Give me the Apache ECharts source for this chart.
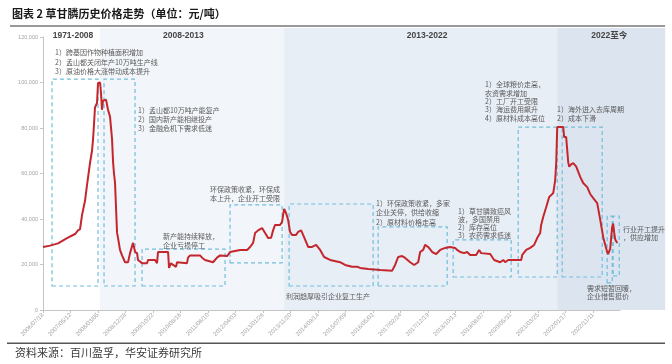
<!DOCTYPE html>
<html>
<head>
<meta charset="utf-8">
<script src="https://cdn.jsdelivr.net/npm/echarts@6/dist/echarts.min.js"></script>
<style>
html,body{margin:0;padding:0;background:#fff;}
#main{width:672px;height:364px;}
</style>
</head>
<body>
<div id="main"></div>
<script>
// ---- data (x = days since 2006/07/18, y = 元/吨) ----
const startDate = Date.UTC(2006, 6, 18);
const tickIntervalDays = 298;
const lastLabelDay = 5960;

const days = [0,76,163,260,347,379,401,423,444,455,471,477,498,509,520,531,542,553,563,585,596,618,629,639,650,683,704,726,748,759,769,780,791,802,813,834,856,889,921,943,975,986,997,1019,1029,1073,1127,1138,1214,1235,1246,1355,1365,1387,1409,1441,1452,1560,1571,1593,1701,1723,1755,1842,1885,1918,1994,2026,2135,2211,2243,2276,2297,2330,2373,2406,2438,2471,2492,2514,2568,2590,2601,2612,2633,2655,2676,2698,2741,2763,2796,2828,2872,2915,2958,3002,3045,3110,3218,3272,3348,3403,3435,3522,3652,3673,3782,3814,3847,3890,3923,3977,4020,4064,4085,4118,4139,4172,4215,4259,4302,4356,4410,4464,4486,4519,4562,4594,4627,4692,4724,4746,4844,4887,4952,4985,5006,5039,5180,5191,5234,5277,5320,5353,5385,5396,5418,5451,5483,5505,5527,5548,5559,5570,5635,5645,5667,5689,5700,5721,5743,5776,5819,5851,5895,5927,5960,6003,6036,6068,6111,6122,6144,6165,6176,6187,6198,6220];
const prices = [27700,28300,29300,31600,33400,35000,35500,41800,42000,48000,48500,55000,55500,64600,65000,70000,75000,82000,89000,91000,99800,100000,95000,88000,92000,92500,88000,85000,75000,65000,60000,56000,45000,34000,31600,26400,24000,21000,21000,25000,29500,27700,25500,25000,22000,20600,20600,22000,22000,20600,25500,25500,18500,20600,19800,19000,21000,20600,23000,24000,24000,23000,22000,21000,23000,24000,23700,25500,26400,26400,27700,29500,33800,35000,36000,33800,31600,31800,35000,37400,37400,38700,41800,44400,42600,39600,34300,33000,33000,34300,35000,32000,27700,27700,28600,26400,23300,22000,21000,19800,19000,19000,18500,18000,17600,17100,17300,19800,23300,23700,22900,21000,19800,21000,25500,26400,28600,27700,25500,24600,26400,27300,27700,27300,26400,25500,25000,25500,24200,24200,26400,25000,24600,22000,21000,22000,21000,22000,22000,24200,26400,27300,28600,31600,33800,37400,40900,45300,49700,50500,51400,57100,64600,80400,80400,76000,76000,65000,63000,64000,64600,63000,58500,55800,54000,51000,49200,47000,39600,32000,25500,24600,27000,36500,38000,34000,31000,29500];

// periods (background bands)
const periodNames = ['1971-2008', '2008-2013', '2013-2022', '2022至今'];
const periodStart = [0, 618, 2612, 5570];
const periodEnd = [618, 2612, 5570, 6740];
const periodLabelDay = [325, 1521, 4161, 6133];

// dashed annotation boxes (data coordinates)
const boxX1 = [98, 661, 1073, 2026, 2666, 3630, 4443, 5147, 5624, 6111, 6176];
const boxX2 = [596, 997, 1972, 2590, 3576, 4378, 5071, 5570, 6057, 6166, 6242];
const boxYLow = [10550, 10550, 10550, 20700, 10550, 10550, 14500, 14500, 14500, 11900, 15000];
const boxYHigh = [101500, 101500, 26800, 46200, 46600, 36500, 30800, 80400, 80400, 41300, 41300];

const notes = [
  '1）跨基因作物种植面积增加\n2）孟山都关闭年产10万吨生产线\n3）原油价格大涨带动成本提升',
  '1）孟山都10万吨产能复产\n2）国内新产能相继投产\n3）金融危机下需求低迷',
  '新产能持续释放，\n企业亏损停工',
  '环保政策收紧，环保成\n本上升，企业开工受限',
  '利润趋厚吸引企业复工生产',
  '1）环保政策收紧，多家\n企业关停，供给收缩\n2）原材料价格走高',
  '1）草甘膦致癌风\n波，多国禁用\n2）库存高位\n3）农药需求低迷',
  '1）全球粮价走高，\n农资需求增加\n2）工厂开工受限\n3）海运费用飙升\n4）原材料成本高位',
  '1）海外进入去库周期\n2）成本下滑',
  '行业开工提升\n，供应增加',
  '需求短暂回暖，\n企业惜售挺价'
];
const notePosX = [55, 138, 163, 210, 286, 376, 458, 485, 557, 623, 587];
const notePosY = [48, 106.5, 231.5, 185.5, 291.5, 199, 207.5, 80.5, 104.5, 225, 284];
const noteLineH = [9.5, 8.6, 9, 8.4, 9, 9.2, 7.9, 8.3, 9, 8, 8.3];

const titleText = '图表 2 草甘膦历史价格走势（单位：元/吨）';
const sourceText = '资料来源：百川盈孚，华安证券研究所';

function dayLabel(d) {
  const t = new Date(startDate + d * 86400000);
  const mm = String(t.getUTCMonth() + 1).padStart(2, '0');
  const dd = String(t.getUTCDate()).padStart(2, '0');
  return t.getUTCFullYear() + '/' + mm + '/' + dd;
}

const chart = echarts.init(document.getElementById('main'), null, {renderer: 'canvas'});
const cjk = '"Noto Sans CJK SC", sans-serif';

const option = {
  animation: false,
  backgroundColor: '#fff',
  grid: {left: 43, top: 37, right: 52, bottom: 54, containLabel: false},
  xAxis: {
    type: 'value', min: 0, max: 6250, interval: tickIntervalDays,
    axisLine: {show: true, lineStyle: {color: '#c4c4c4', width: 1}},
    axisTick: {show: true, length: 3, lineStyle: {color: '#c4c4c4'}},
    splitLine: {show: false},
    axisLabel: {
      rotate: 45, fontSize: 6, color: '#a3a3a3', margin: 4,
      fontFamily: 'Liberation Sans, Arial, sans-serif',
      showMaxLabel: false,
      formatter: function (v) {
        if (v % tickIntervalDays !== 0 || v > lastLabelDay) return '';
        return dayLabel(v);
      }
    }
  },
  yAxis: {
    type: 'value', min: 0, max: 120000, interval: 20000,
    axisLine: {show: true, lineStyle: {color: '#c4c4c4', width: 1}},
    axisTick: {show: true, length: 3, lineStyle: {color: '#c4c4c4'}},
    splitLine: {show: false},
    axisLabel: {
      fontSize: 5.5, color: '#a3a3a3', margin: 5,
      fontFamily: 'Liberation Sans, Arial, sans-serif',
      formatter: function (v) { return v.toLocaleString('en-US'); }
    }
  },
  series: [{
    type: 'line',
    data: days.map((d, i) => [d, prices[i]]),
    showSymbol: false,
    clip: false,
    lineStyle: {color: '#c3272d', width: 2},
    z: 5,
    markArea: {
      silent: true,
      itemStyle: {color: 'rgba(0,0,0,0)', borderColor: '#72bedb', borderWidth: 1.2, borderType: [4, 3]},
      data: boxX1.map((x1, i) => [{coord: [x1, boxYLow[i]]}, {coord: [boxX2[i], boxYHigh[i]]}])
    }
  }]
};
chart.setOption(option);

const bandColors = ['#ffffff', '#f2f5f9', '#e8eef6', '#dce5ef'];
const px = d => chart.convertToPixel({xAxisIndex: 0}, d);
const graphics = [];
periodNames.forEach((name, i) => {
  const x1 = px(periodStart[i]), x2 = px(periodEnd[i]);
  graphics.push({type: 'rect', z: -10, silent: true,
    shape: {x: x1, y: 28, width: x2 - x1, height: 282},
    style: {fill: bandColors[i]}});
  graphics.push({type: 'text', z: 10, silent: true,
    style: {text: name, x: px(periodLabelDay[i]), y: 36, align: 'center', verticalAlign: 'middle',
      fontSize: 8.5, fontWeight: 'bold', fontFamily: 'Liberation Sans, Arial, "Noto Sans CJK SC", sans-serif', fill: '#444'}});
});
notes.forEach((t, i) => {
  graphics.push({type: 'text', z: 10, silent: true,
    style: {text: t, x: notePosX[i], y: notePosY[i], align: 'left', verticalAlign: 'top',
      fontSize: 7, lineHeight: noteLineH[i], fontFamily: cjk, fill: '#5a5a5a'}});
});
graphics.push({type: 'text', z: 10, silent: true,
  style: {text: titleText, x: 12, y: 14, verticalAlign: 'middle', fontSize: 11, fontWeight: 'bold', fontFamily: cjk, fill: '#1a1a1a'}});
graphics.push({type: 'rect', z: 10, silent: true, shape: {x: 10, y: 25, width: 655, height: 2}, style: {fill: '#999'}});
graphics.push({type: 'rect', z: 10, silent: true, shape: {x: 7, y: 342.5, width: 658, height: 1.5}, style: {fill: '#555'}});
graphics.push({type: 'text', z: 10, silent: true,
  style: {text: sourceText, x: 15, y: 353, verticalAlign: 'middle', fontSize: 11, fontFamily: cjk, fill: '#3a3a3a'}});
chart.setOption({graphic: graphics});
</script>
</body>
</html>
